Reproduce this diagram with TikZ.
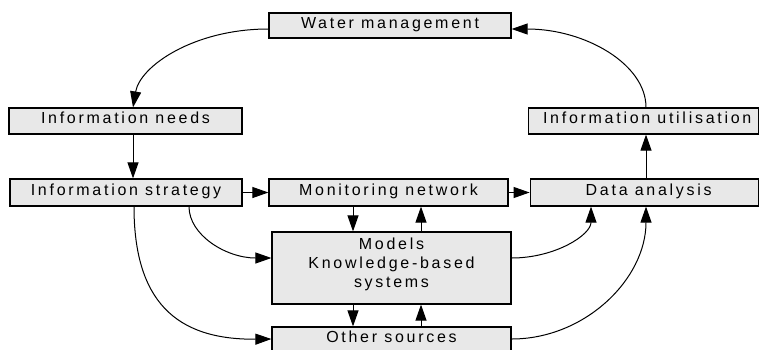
\documentclass[tikz,border=0pt]{standalone}
\usepackage{fontspec}
\setmainfont[LetterSpace=17]{Liberation Sans}
\usetikzlibrary{arrows.meta,calc}
\definecolor{boxfill}{HTML}{E8E8E8}
\begin{document}
\begin{tikzpicture}[x=1pt,y=-1pt,
  box/.style={draw=black,line width=1.2pt,fill=boxfill,inner sep=0pt,
    font=\fontsize{16}{18.7}\selectfont,text height=0.75em,text depth=0.25em},
  bigbox/.style={draw=black,line width=1.2pt,fill=boxfill,inner sep=0pt,
    font=\fontsize{16}{18.7}\selectfont,align=center},
  arr/.style={line width=1pt,-{Triangle[length=16pt,width=11pt]}}]
\useasboundingbox (0,0) rectangle (759,349);
\begin{scope}
\clip (0,0) rectangle (759,349);
\node[box,minimum width=242pt,minimum height=25pt] (wm) at (390,25.5) {Water management};
\node[box,minimum width=233pt,minimum height=26pt] (needs) at (125.5,121) {Information needs};
\node[box,minimum width=230pt,minimum height=26pt] (util) at (643.2,121) {\hspace*{8pt}Information utilisation};
\node[box,minimum width=232pt,minimum height=27pt] (strat) at (126,192.5) {Information strategy};
\node[box,minimum width=239pt,minimum height=27pt] (mon) at (388.5,192.5) {Monitoring network};
\node[box,minimum width=228pt,minimum height=27pt] (data) at (644.2,192.5) {\hspace*{9pt}Data analysis};
\node[bigbox,minimum width=239pt,minimum height=72pt] (models) at (391.5,268) {Models\\Knowledge-based\\systems\rule[-11pt]{0pt}{0pt}};
\node[box,minimum width=239pt,minimum height=26pt] (other) at (391.5,340) {Other sources};
\end{scope}
\coordinate (c133) at (133,0);
\coordinate (c134) at (134,0);
\coordinate (c189) at (189,0);
\coordinate (c353) at (353,0);
\coordinate (c421) at (421,0);
\coordinate (c591) at (591,0);
\coordinate (c646) at (646,0);
\coordinate (y29) at (0,29);
\coordinate (y258) at (0,258);
\coordinate (y339) at (0,339);
% curves
\draw[arr] (wm.west |- y29) .. controls (194,29) and (140,66) .. (needs.north -| c133);
\draw[arr] (util.north -| c646) .. controls (646,64) and (585,29) .. (wm.east |- y29);
\draw[arr] (strat.south -| c189) .. controls (189,235) and (226,258) .. (models.west |- y258);
\draw[arr] (strat.south -| c134) .. controls (134,300) and (175,340) .. (other.west |- y339);
\draw[arr] (models.east |- y258) .. controls (555,258) and (591,235) .. (data.south -| c591);
\draw[arr] (other.east |- y339) .. controls (585,339) and (646,279) .. (data.south -| c646);
% straight
\draw[arr] (needs.south -| c133) -- (strat.north -| c133);
\draw[arr] (strat.east) -- (mon.west);
\draw[arr] (mon.east) -- (data.west);
\draw[arr] (mon.south -| c353) -- (models.north -| c353);
\draw[arr] (models.north -| c421) -- (mon.south -| c421);
\draw[arr] (models.south -| c353) -- (other.north -| c353);
\draw[arr] (other.north -| c421) -- (models.south -| c421);
\draw[arr] (data.north -| c646) -- (util.south -| c646);
\end{tikzpicture}
\end{document}
